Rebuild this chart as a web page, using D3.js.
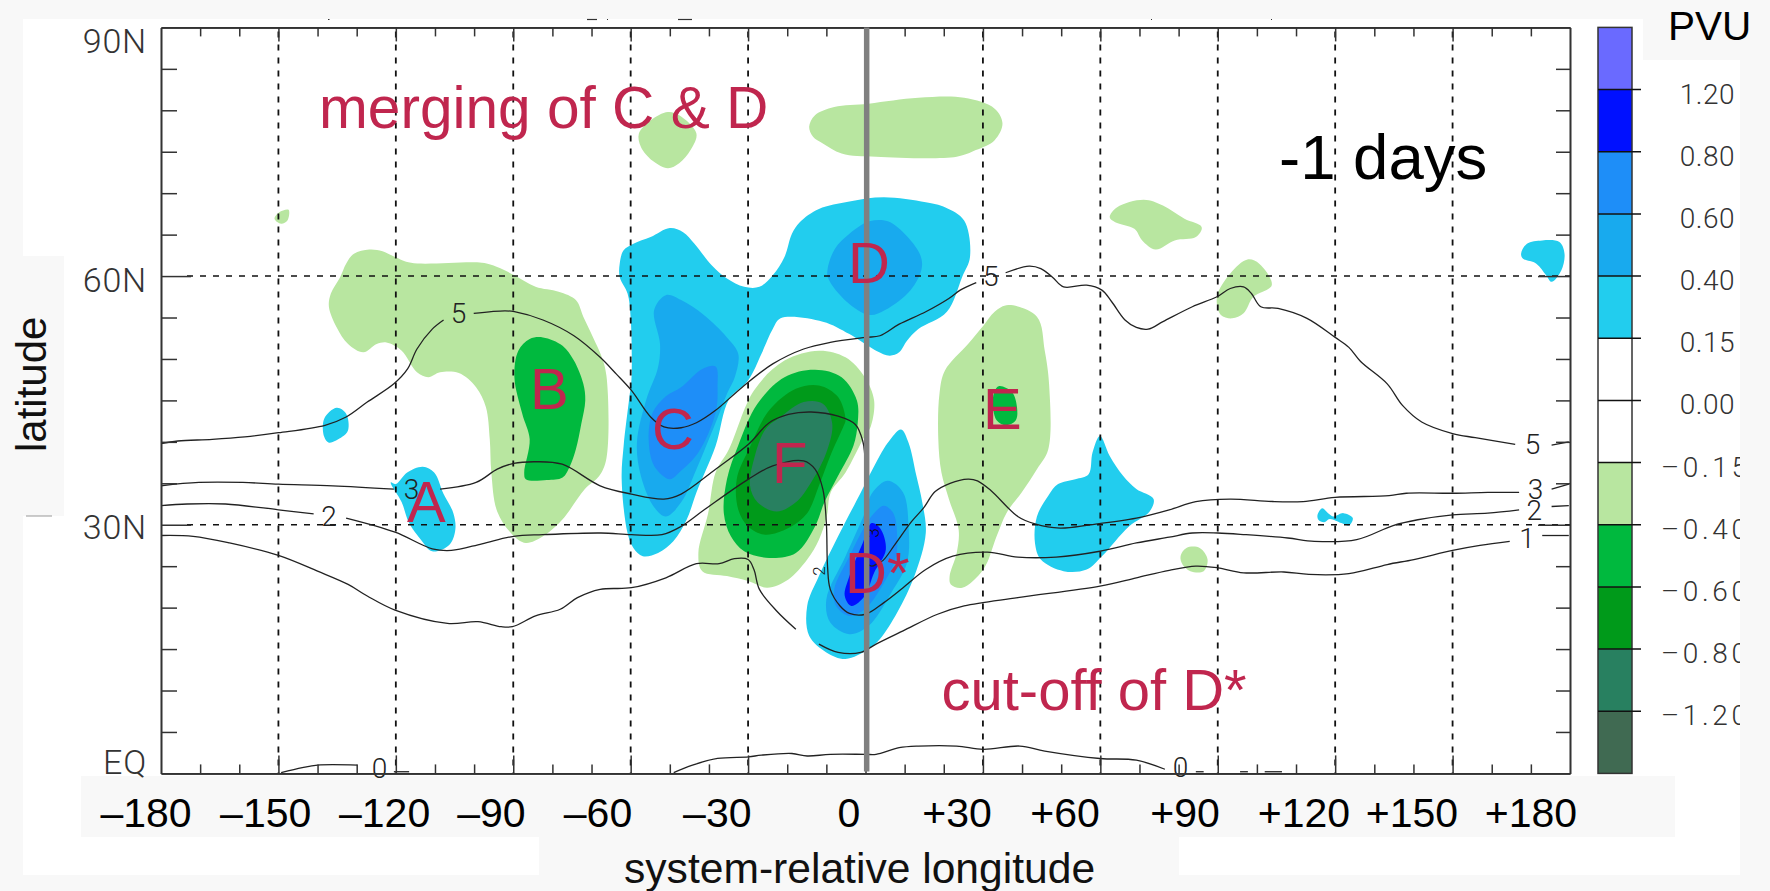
<!DOCTYPE html>
<html><head><meta charset="utf-8">
<script src="https://cdnjs.cloudflare.com/ajax/libs/d3/7.8.5/d3.min.js"></script>
<style>html,body{margin:0;padding:0;background:#f8f8f8}svg{display:block}</style>
</head><body><svg id="c" width="1770" height="891"></svg>
<script>
// ---------- data (longitude, latitude) ----------
const majorLon=[-150,-120,-90,-60,-30,0,30,60,90,120,150];
const gridLon=[-150,-120,-90,-60,-30,30,60,90,120,150];
const minorLon=[-170,-160,-140,-130,-110,-100,-80,-70,-50,-40,-20,-10,10,20,40,50,70,80,100,110,130,140,160,170];
const gridLat=[30,60];
const minorLat=[5,10,15,20,25,35,40,45,50,55,65,70,75,80,85];
const latLabels=["EQ","30N","60N","90N"];
const lonLabels=["–180","–150","–120","–90","–60","–30","0","+30","+60","+90","+120","+150","+180"];
const pvuLabels=["1.20","0.80","0.60","0.40","0.15","0.00","–0.15","–0.40","–0.60","–0.80","–1.20"];
const systemLon=0.3;

const lightB=[[-134.2,59.9],[-132.7,61.5],[-130.7,62.7],[-126.8,63.2],[-123.4,63],[-120.2,62.3],[-116.1,61.6],[-98,61.6],[-94.1,61.1],[-89.7,60.1],[-84.3,58.7],[-78.4,58.1],[-74,57.1],[-72.1,55.1],[-69.6,52.6],[-67.6,50.5],[-66.2,48],[-66.2,38],[-68,35.9],[-71.7,34.3],[-77.5,30.6],[-82.4,28.6],[-86.8,27.8],[-90.2,28.8],[-94.1,31.6],[-95.6,36.3],[-96,40.3],[-97,44.2],[-99.5,46.6],[-103.9,48.3],[-108.7,48.4],[-111.7,47.8],[-114.6,48.4],[-118.5,51],[-122.4,52],[-124.9,51.8],[-128.3,50.8],[-132.2,51.8],[-135.1,53.8],[-137.1,56.3],[-136.6,57.9]];
const greenB=[[-89.7,47.8],[-88.7,51],[-85.8,52.4],[-82.4,52.6],[-77.4,51.6],[-74.5,49.8],[-72.1,47],[-71.6,45],[-72.6,42.2],[-74,39.1],[-75.5,37.1],[-77.4,35.7],[-81.4,35.4],[-86.8,35.5],[-87.2,36.3],[-85.8,40.3],[-87.7,43.4]];
const lightNW=[[-151,66.9],[-149.8,67.7],[-147.4,68],[-147.7,66.7],[-149.3,66.3]];
const lightTopC=[[-57.9,77.2],[-54.9,78.8],[-50.5,79.8],[-47.6,79.4],[-43.2,77.2],[-44.7,75.2],[-47.6,73.6],[-50.5,73],[-54.4,73.9],[-57.4,75.6]];
const lightTopD=[[-14.4,78],[-12.9,79.4],[-8,80.4],[0.8,80.8],[13.5,81.5],[25.2,81.5],[33,80.2],[35,78.4],[33,76.4],[28.2,75.2],[23.3,74.4],[2.7,74.4],[-6.1,74.8],[-10.9,76],[-13.4,76.8]];
const lightNE=[[62.4,67.1],[64.3,68.3],[71.1,69.2],[76,68.5],[81.5,66.9],[85.9,65.9],[84.4,64.7],[79,64.3],[74.1,63.2],[70.7,64.3],[68.7,65.7],[63.8,66.5]];
const lightE100=[[89.8,57.5],[93.2,60.3],[97.6,62],[100.6,61.5],[103.8,58.9],[99.1,57.5],[96.6,55.5],[93.7,54.9],[90.8,55.3]];
const lightF=[[-34.9,39.1],[-28.5,46.2],[-20.7,49.8],[-11.9,51],[-5.1,50.2],[-0.2,47.8],[2.2,45],[1.3,41.8],[-0.2,40.7],[-5.1,36.3],[-8.9,33.9],[-9.9,31],[-11.9,28.2],[-14.9,25.8],[-19.7,23.4],[-25.1,22.4],[-30,23.2],[-35.4,23.8],[-41.7,24.4],[-42.7,26.6],[-40.2,31.4],[-38.3,36.3]];
const greenF=[[-32.5,39.6],[-27.6,44.6],[-20.7,47.8],[-12.9,48.7],[-6.1,47.8],[-2.2,45],[-2,42.2],[-3.1,39.5],[-7,35.9],[-10.5,32.7],[-12.9,29.8],[-17.8,26.6],[-24.6,26],[-31,26.8],[-34.4,28.6],[-36.2,31.4],[-35.4,35.5]];
const darkF=[[-29.5,39.4],[-24.6,43.8],[-17.8,46.4],[-11.9,46.8],[-7,45.4],[-5.1,42.6],[-5.6,41.9],[-9,38.3],[-11.9,34.7],[-14.9,31.4],[-19.7,29.6],[-25.6,28.8],[-30,29.8],[-32.5,31.8],[-32.9,35.5]];
const seaF=[[-25.6,41.5],[-21.7,43],[-15.8,44.8],[-10.9,44.6],[-8.5,42.2],[-10,38.7],[-13.9,35.1],[-17.8,32.7],[-22.7,31.6],[-27.6,32.7],[-29.5,34.7],[-28.5,37.9]];
const lightE=[[36.5,56.5],[43.8,55.1],[45.8,51],[46.9,47],[46.7,39.1],[43.8,36.7],[39.9,33.9],[36,31.4],[33.5,28.6],[30.1,24.6],[24.7,22.4],[21.8,22.8],[21.5,23.8],[23.3,26.6],[23.8,29.4],[21.3,33.1],[19.4,36.3],[18.6,40.3],[18.9,45.8],[20.3,48.6],[26.2,51.8],[30.1,54],[33,55.7]];
const greenE=[[32.6,45.4],[34,46.7],[37.4,46],[38.7,44.2],[38.4,42.6],[36,42],[33.5,42.6]];
const lightSpot=[[80.5,26.2],[82,27.2],[85.4,27.2],[87.4,25.8],[86.4,24.4],[83,24.4],[81,25.2]];

const cyanCD=[[-62.8,61.5],[-61.8,63.1],[-59.3,63.9],[-54.9,64.7],[-50,65.8],[-46.6,65.3],[-43.7,63.9],[-39.3,61.3],[-35.4,59.7],[-31,58.7],[-27.1,58.7],[-23.7,60.1],[-20.7,62.3],[-18.8,65.1],[-16.8,66.5],[-11.9,68.1],[-4.1,69],[4.7,69.5],[15.4,68.9],[20.3,68.3],[25.2,66.7],[26.7,62.3],[24.7,59.9],[20.8,55.7],[13.5,53.6],[10.6,52.2],[8.6,50.8],[6.2,50.4],[2.7,51],[-4.1,53],[-10.9,54.5],[-21.7,54.9],[-23.7,53.6],[-26.6,50.6],[-30,47.4],[-34.9,45.1],[-38.3,39.5],[-43.2,33.9],[-45.7,30.6],[-49.1,28],[-53,26.6],[-56.9,26.2],[-59.3,27.2],[-60.8,29],[-62.3,35.5],[-61.8,39.5],[-60.3,45.5],[-59.8,47.5],[-60,55],[-60.8,57.9],[-62.8,59.9]];
const skyD=[[-9.7,60.8],[-7.8,63.3],[-4.1,65.1],[1,66.6],[5.7,66.6],[10.6,64.8],[14.1,62.4],[14.3,60.8],[11.5,58.3],[5,55.9],[1,55.3],[-4.8,56.9],[-9.5,59.7]];
const skyC=[[-54,55.9],[-51,57.7],[-47.1,57.1],[-41.3,55.3],[-35.4,52.6],[-32.5,50.6],[-33.4,47.8],[-35.3,45.9],[-38.3,42.3],[-43.2,36.7],[-47.1,32.7],[-51,31],[-54,32.1],[-57.4,35.9],[-58.4,39.9],[-56,45.1],[-53,49],[-52.5,51.8]];
const azureC=[[-47.1,46.6],[-41.7,48.8],[-38.3,49.1],[-37.8,46.6],[-38.3,43.5],[-42.7,38.7],[-47.6,36.3],[-50,35.5],[-54,37.1],[-55.4,40.3],[-54.4,43.5],[-51,45.5]];
const cyanA=[[-121.3,35.1],[-120,34.9],[-117.1,36.3],[-113.1,37],[-110.2,36.3],[-107.8,33.7],[-105.3,31.4],[-104.8,29.4],[-106.3,27.6],[-110.7,26.8],[-113.6,28.2],[-116.6,30.2],[-118.5,32.7]];
const cyanW=[[-138.3,42.8],[-135.1,44.1],[-132.7,43.4],[-132.2,41.4],[-133.7,40.6],[-137.1,39.9],[-138.3,40.6]];
const cyanDstar=[[9.1,41.5],[11,39.9],[13,35.9],[14.5,32.7],[15.4,29],[12.5,23.8],[8.1,19.4],[3.7,16.2],[0.8,15],[-5.1,13.8],[-10,14.6],[-14.4,16.6],[-14.9,20.2],[-11.9,23.8],[-7,28.6],[-1.2,33.9],[1.8,36.7],[5.7,39.9]];
const skyDstar=[[5.7,35.3],[9.6,33.9],[11,29.8],[10.6,25.4],[6.6,21.8],[0.8,17.8],[-4.1,16.8],[-9,18.2],[-10,21],[-5.1,26.2],[-0.2,31.4],[1.8,33.9]];
const azureDstar=[[4.7,32.3],[7.1,31.4],[8.1,28.6],[7.6,25.8],[3.7,22.2],[-0.2,19.8],[-4.1,19],[-7.5,20.2],[-8,22.2],[-4.1,26.2],[-0.2,29.8],[2.2,31.4]];
const blueDstar=[[1.6,30.2],[3.7,29.6],[5.2,27],[2.2,24.2],[-0.2,21.4],[-3.6,20.2],[-5.3,21.4],[-4.1,23.8],[-0.7,27.8]];
const cyanE60=[[59.9,40.7],[62.4,38.3],[65.8,35.9],[69.2,34.3],[73.6,33.1],[72.6,31.6],[67.3,29.8],[60.4,26.2],[56.5,24.6],[50.6,24.4],[44.8,25.8],[43.3,27.8],[43.8,31],[46.7,33.5],[49.2,34.9],[53.6,35.5],[57,36.1],[58,38.7]];
const cyanE120=[[115.5,31.2],[116.7,32],[118.2,31.4],[119.6,31],[122.1,31.4],[124.5,30.8],[123.5,29.9],[121.6,30.2],[118.6,30.7],[117.2,30.3],[115.7,30.6]];
const cyanE175=[[167.5,62.7],[169,63.9],[172.9,64.3],[177.3,64.1],[178.6,62.7],[177.8,60.7],[175.3,59.3],[173.9,60.1],[171.4,61.5],[168,62.1]];

const pv5a=[[-180,39.8],[-175.7,40.1],[-166.9,40.3],[-158.6,40.6],[-150,41.1],[-138.1,42],[-132.7,43],[-127.3,44.8],[-120.5,47],[-117,48.8],[-114.6,51.2],[-110.7,53.6],[-107.8,54.7]];
const pv5b=[[-100.1,55.5],[-92.1,55.8],[-89.7,55.7],[-82.4,54.7],[-74.5,52.8],[-67.8,50.2],[-63.7,48.2],[-59.8,46.2],[-54.9,43],[-51.5,41.8],[-47.1,41.7],[-43.2,42.3],[-38.3,43.8],[-31.5,46.6],[-23.7,49.4],[-15.8,51.2],[-9,52],[0,52.6],[3.7,52.8],[8.6,54.2],[15.4,55.7],[21.3,57.3],[24.2,58.3],[28.3,59.2]];
const pv5c=[[35.8,60.4],[41.8,61.2],[44.8,60.9],[47.7,59.9],[50.6,58.7],[56.5,58.9],[60.4,58.3],[62.9,56.9],[66.3,54.7],[69.2,53.8],[72.2,53.6],[76,54.5],[83.5,56.3],[89.8,57.5],[93.2,58.5],[96.6,58.7],[98.6,57.9],[101,56.3],[105.4,56.1],[112.8,54.9],[120,52.6],[123.5,51.4],[126.5,49.7],[133.3,47],[137.2,44.4],[142.1,42.4],[150,41],[155.8,40.5],[166,39.7]];
const pv5d=[[175.3,39.6],[179.7,40]];
const pv3a=[[-180,34.7],[-170.3,35.1],[-159.1,35.1],[-150,34.9],[-136.1,34.7],[-120.5,34.3]];
const pv3b=[[-108.7,34.3],[-99.5,35.1],[-94.1,36.7],[-89.9,37.4],[-84.4,37.6],[-77.5,37.3],[-67.8,34.7],[-59.8,33.7],[-51.5,33.1],[-47.1,33.7],[-38.3,36.7],[-29.9,39.7],[-24.6,42.3],[-19.7,43.3],[-13.9,43.6],[-7,43.1],[-2.6,42.1],[-0.7,40.1],[0,37]];
const pv3c=[[0.5,25.3],[1.6,25],[3.3,25.4],[4.5,25.7],[7.5,27.6],[11.8,30.4],[14.8,32],[17.8,34],[21.6,35],[26.2,35.5],[28.6,35.3],[32.1,34.1],[38.9,31],[43.3,30.1],[49.7,29.6],[57.5,30],[69.2,30.8],[77.6,31.8],[84.4,32.8],[93.2,33.1],[104,32.8],[111.8,32.8],[120,33.3],[133.8,33.5],[138.2,33.8],[150,33.8],[159,33.9],[167,33.9]];
const pv3d=[[175.3,34.3],[179.7,34.9]];
const pv2a=[[-180,32.3],[-173.3,32.5],[-163.5,32.5],[-150,31.8],[-141,31.3]];
const pv2b=[[-132.7,30.8],[-120.2,29.1],[-110.7,27.1],[-105.8,26.9],[-98,27.7],[-89.9,28.6],[-82.4,28.8],[-67.6,29],[-59.8,28.8],[-52,28.8],[-47.1,29.8],[-41.2,31.8],[-29.9,35.5],[-23.7,37.1],[-15.8,37.7],[-12.9,36.7],[-10.9,34.3],[-10,30.2],[-9.7,25],[-9,22.2],[-6.5,20.2],[-4.1,19.3],[0,19.2],[4.7,20.6],[9.6,22.4],[15.4,24.6],[22.3,26.2],[31.1,26.7],[38.9,26.1],[48.7,26.1],[59.9,26.8],[69.2,27.8],[77.6,28.5],[83.5,29],[90,29],[97.1,28.8],[107.9,28.4],[114.7,28],[125.5,28.2],[134.8,29.9],[141.1,30.6],[150,31.2],[159,31.4],[167,31.8]];
const pv2c=[[175.3,32.2],[179.7,32.3]];
const pv1a=[[-180,28.7],[-171.8,28.6],[-162.5,27.8],[-150,26.3],[-140,24.4],[-132.2,22.8],[-127.3,21.4],[-120.2,19.7],[-106.8,18.1],[-99,18.3],[-93.1,17.7],[-90.2,17.7],[-84.3,19],[-78,19.8],[-73.6,21.2],[-67.8,22.2],[-59.8,22.4],[-51,23.6],[-43.2,25.3],[-37.4,25.3],[-33.5,25.9],[-30,25.8],[-28.5,24.6],[-27.1,22.2],[-22.7,19.6],[-17.8,17.4]];
const pv1b=[[-11.9,15.6],[-7,14.6],[-1.2,14.6],[2.7,15.6],[9.6,17.2],[18.4,19.2],[25.2,20.2],[38.9,21.2],[59.9,22.6],[69.2,23.6],[77.6,24.5],[84.4,25],[90,24.8],[96.6,24.2],[106.9,24.3],[113.3,24],[123.5,24.1],[133.3,25.2],[140.1,25.8],[150,26.9],[157,27.5],[164.6,28]];
const pv1c=[[172.9,28.7],[179.7,28.7]];
const pv0a=[[-149.3,0.1],[-143.9,0.7],[-140,1],[-129.8,1]];
const pv0b=[[-120.5,0.2],[-116.6,0.2]];
const pv0c=[[-49,0.1],[-44.2,1],[-37.8,1.8],[-29.9,2],[-26.6,2.2],[-18.8,2.4],[-14.9,2.1],[-9,2.3],[0,2.3],[2.7,2.3],[8.6,3.1],[13.5,3.3],[23.3,3.3],[30.1,2.9],[39.4,3.3],[45.8,2.7],[59.9,1.8],[69.2,1.6],[76.5,0.5]];
const pv0d=[[84.4,0.2],[86.4,0.2]];
const pv0e=[[95.7,0.2],[97.7,0.2]];
const pv0f=[[102,0.2],[106.4,0.2]];

const contourLines=[pv5a,pv5b,pv5c,pv5d,pv3a,pv3b,pv3c,pv3d,pv2a,pv2b,pv2c,pv1a,pv1b,pv1c,pv0a,pv0b,pv0c,pv0d,pv0e,pv0f];
const contourLabels=[["5",-104,55.5],["5",32,60],["5",170.4,39.8],["3",-116,34.3],["3",171.2,34.3],["2",-137.1,31.1],["2",170.9,31.8],["1",169,28.4],["0",-124.2,0.6],["0",80.5,0.8]];

const pvuColors=["#6a6aff","#0010ff","#1e8ef8","#18aaee","#22cdee","#ffffff","#ffffff","#b8e6a0","#00b93e","#009a1a","#288060","#406a52"];
const fillGroups=[
 ["#b8e6a0",[lightB,lightNW,lightTopC,lightTopD,lightNE,lightE100,lightF,lightE,lightSpot]],
 ["#00b93e",[greenB,greenF,greenE]],
 ["#009a1a",[darkF]],
 ["#288060",[seaF]],
 ["#22cdee",[cyanCD,cyanA,cyanW,cyanDstar,cyanE60,cyanE120,cyanE175]],
 ["#18aaee",[skyD,skyC,skyDstar]],
 ["#1e8ef8",[azureC,azureDstar]],
 ["#0010ff",[blueDstar]]
];

// ---------- layout ----------
const L=161,R=1570,T=27.4,B=773.4;
const x=d3.scaleLinear().domain([-180,180]).range([L,R]);
const y=d3.scaleLinear().domain([0,90]).range([B,T]);
const svg=d3.select("#c");
const thin="Roboto, 'Liberation Sans', sans-serif", sans="'Liberation Sans', Arial, sans-serif";

// page patches
const bg="#f8f8f8";
[[23,19,1717,856,"#fff"],[0,256,64,260,bg],[1643,0,127,60,bg],[81,776,1594,61,bg],[539,837,640,54,bg]]
 .forEach(r=>svg.append("rect").attr("x",r[0]).attr("y",r[1]).attr("width",r[2]).attr("height",r[3]).attr("fill",r[4]));
svg.append("line").attr("x1",26).attr("x2",52).attr("y1",516).attr("y2",516).attr("stroke","#999").attr("stroke-width",1);
[[328,329.5],[587,597],[607,608],[678,692],[1151,1152],[1271,1272]].forEach(s=>
 svg.append("line").attr("x1",s[0]).attr("x2",s[1]).attr("y1",19.5).attr("y2",19.5).attr("stroke","#333").attr("stroke-width",1.2));

// filled PV anomaly regions
const ringPath=d3.line().x(d=>x(d[0])).y(d=>y(d[1])).curve(d3.curveCatmullRomClosed.alpha(0.5));
const fills=svg.append("g");
fillGroups.forEach(([col,rings])=>{
 fills.selectAll(null).data(rings).join("path").attr("d",ringPath).attr("fill",col);
});

// dashed graticule
const grid=svg.append("g").attr("stroke","#111").attr("stroke-dasharray","6 7");
grid.selectAll(null).data(gridLon).join("line").attr("stroke-width",1.8).attr("x1",d=>x(d)).attr("x2",d=>x(d)).attr("y1",T+4).attr("y2",B);
grid.selectAll(null).data(gridLat).join("line").attr("stroke-width",1.5).attr("x1",L+26).attr("x2",R).attr("y1",d=>y(d)).attr("y2",d=>y(d));

// PV contour lines
const linePath=d3.line().x(d=>x(d[0])).y(d=>y(d[1])).curve(d3.curveCatmullRom.alpha(0.5));
svg.append("g").selectAll("path").data(contourLines).join("path").attr("d",linePath)
 .attr("fill","none").attr("stroke","#222").attr("stroke-width",1.3);
svg.append("g").selectAll("text").data(contourLabels).join("text")
 .attr("x",d=>x(d[1])).attr("y",d=>y(d[2])+10).attr("text-anchor","middle")
 .attr("font-family",thin).attr("font-weight",300).attr("font-size",28).attr("fill","#222").text(d=>d[0]);
svg.append("text").attr("transform",`translate(${x(2)},${y(29)}) rotate(-90)`).attr("text-anchor","middle").attr("dy",6)
 .attr("font-family",thin).attr("font-weight",300).attr("font-size",17).attr("fill","#111").text("3");
svg.append("text").attr("transform",`translate(${x(-11.9)},${y(24.4)}) rotate(-90)`).attr("text-anchor","middle").attr("dy",6)
 .attr("font-family",thin).attr("font-weight",300).attr("font-size",17).attr("fill","#111").text("2");

// frame and ticks with d3 axes
const axisStyle=g=>{g.selectAll(".domain").attr("stroke","#333").attr("stroke-width",1.6);g.selectAll(".tick line").attr("stroke","#333").attr("stroke-width",1.5);g.selectAll(".tick text").remove();};
const add=(axis,tx,ty)=>svg.append("g").attr("transform",`translate(${tx},${ty})`).call(axis.tickFormat("")).call(axisStyle);
add(d3.axisBottom(x).tickValues(minorLon).tickSize(-9).tickSizeOuter(0),0,B);
add(d3.axisBottom(x).tickValues(majorLon).tickSize(-18).tickSizeOuter(0),0,B);
add(d3.axisTop(x).tickValues(minorLon).tickSize(-9).tickSizeOuter(0),0,T);
add(d3.axisTop(x).tickValues(majorLon).tickSize(-14).tickSizeOuter(0),0,T);
add(d3.axisLeft(y).tickValues(minorLat).tickSize(-16).tickSizeOuter(0),L,0);
add(d3.axisLeft(y).tickValues(gridLat).tickSize(-30).tickSizeOuter(0),L,0);
add(d3.axisRight(y).tickValues(minorLat).tickSize(-14).tickSizeOuter(0),R,0);
add(d3.axisRight(y).tickValues(gridLat).tickSize(-32).tickSizeOuter(0),R,0);

// reference meridian
svg.append("line").attr("x1",x(systemLon)).attr("x2",x(systemLon)).attr("y1",T).attr("y2",B-2).attr("stroke","#808080").attr("stroke-width",5.5);

// axis labels
const latY=[774,539,291.7,52.7];
svg.append("g").selectAll("text").data(latLabels).join("text").attr("x",147).attr("y",(d,i)=>latY[i]).attr("text-anchor","end")
 .attr("font-family",thin).attr("font-weight",300).attr("font-size",34).attr("letter-spacing",0.8).attr("fill","#333").text(d=>d);
const lonLabelX=[146,265.7,384.6,491.4,598,717.3,849,957,1065,1185,1304,1412,1531];
svg.append("g").selectAll("text").data(lonLabels).join("text").attr("x",(d,i)=>lonLabelX[i]).attr("y",826.7).attr("text-anchor","middle")
 .attr("font-family",sans).attr("font-size",41).attr("fill","#000").text(d=>d);
svg.append("text").attr("x",624).attr("y",883).attr("font-family",sans).attr("font-size",42.6).attr("fill","#111").text("system-relative longitude");
svg.append("text").attr("transform","translate(46,452) rotate(-90)").attr("font-family",sans).attr("font-size",42).attr("fill","#111").text("latitude");

// colour bar
const cbY=d3.scaleBand().domain(d3.range(pvuColors.length)).range([T,B]);
const cb=svg.append("g");
cb.selectAll("rect").data(pvuColors).join("rect").attr("x",1598).attr("width",34).attr("y",(d,i)=>cbY(i)).attr("height",cbY.bandwidth()).attr("fill",d=>d);
cb.append("rect").attr("x",1598).attr("width",34).attr("y",T).attr("height",B-T).attr("fill","none").attr("stroke","#333").attr("stroke-width",1.5);
cb.selectAll("line").data(pvuLabels).join("line").attr("x1",1598).attr("x2",1641).attr("y1",(d,i)=>cbY(i+1)).attr("y2",(d,i)=>cbY(i+1)).attr("stroke","#111").attr("stroke-width",1.5);
cb.selectAll("text").data(pvuLabels).join("text").attr("y",(d,i)=>cbY(i+1)+14)
 .attr("x",(d,i)=>i<6?1735:1661).attr("text-anchor",(d,i)=>i<6?"end":"start")
 .attr("font-family",thin).attr("font-weight",300).attr("font-size",28).attr("letter-spacing",(d,i)=>i<6?0.5:3.6).attr("fill","#333").text(d=>d);
svg.append("rect").attr("x",1740).attr("y",60).attr("width",30).attr("height",831).attr("fill",bg);
svg.append("text").attr("x",1668).attr("y",39.5).attr("font-family",sans).attr("font-size",40.5).attr("fill","#000").text("PVU");
svg.append("text").attr("x",1279).attr("y",179).attr("font-family",sans).attr("font-size",63.5).attr("fill","#000").text("-1 days");

// annotations
const crimson="#c0264e";
[["merging of C & D",319,127.7,58.6],["cut-off of D*",941.5,710,58],["A",407,522.3,58],["B",530,409,58],["C",652,449.3,58],["D",848,283,58],["E",983,429,58],["F",772,483,58],["D*",845,593.3,58]]
 .forEach(a=>svg.append("text").attr("x",a[1]).attr("y",a[2]).attr("font-family",sans).attr("font-size",a[3]).attr("fill",crimson).text(a[0]));
</script></body></html>
